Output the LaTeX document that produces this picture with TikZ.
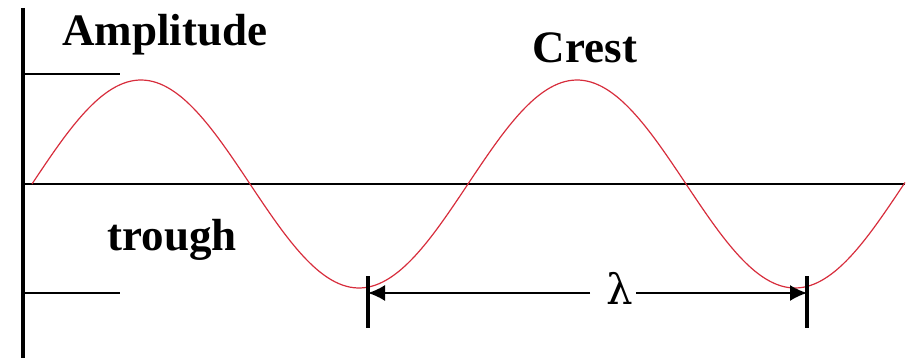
\documentclass[tikz,border=0pt]{standalone}
\usepackage{fontspec}
\setmainfont{Liberation Serif}
\newfontfamily\lamfont{DejaVu Serif}
\usetikzlibrary{arrows.meta}
\definecolor{wavered}{RGB}{215,45,60}
\begin{document}
\begin{tikzpicture}[x=1pt,y=-1pt,
  axisline/.style={line width=3.8pt},
  guide/.style={line width=1.8pt},
  barline/.style={line width=4pt},
  dimline/.style={line width=1.8pt,-{Latex[length=17pt,width=16pt]}},
  lbl/.style={font=\bfseries\fontsize{45}{45}\selectfont, inner sep=0pt, anchor=base},
  wave/.style={wavered, line width=1.2pt}]
\useasboundingbox (0,0) rectangle (911,361);
% axes
\coordinate (vtop) at (23,8);
\coordinate (vbot) at (23,358);
\coordinate (hl) at (23,184);
\coordinate (hr) at (905,184);
\draw[axisline] (vtop) -- (vbot);
\draw[guide] (hl) -- (hr);
% amplitude guides
\coordinate (ta) at (23,74);
\coordinate (tb) at (120,74);
\coordinate (ba) at (23,293);
\coordinate (bb) at (120,293);
\draw[guide] (ta) -- (tb);
\draw[guide] (ba) -- (bb);
% wave
\draw[wave] plot[domain=32:905, samples=240, smooth] (\x, {184-104*sin((\x-32)*0.825688)});
% labels
\node[lbl] (amp) at (165,46) {Amplitude};
\node[lbl] (crest) at (585,63) {Crest};
\node[lbl] (trough) at (172,250) {trough};
% wavelength
\coordinate (lbt) at (368,276);
\coordinate (lbb) at (368,328);
\coordinate (rbt) at (807,276);
\coordinate (rbb) at (807,328);
\draw[barline] (lbt) -- (lbb);
\draw[barline] (rbt) -- (rbb);
\coordinate (lb) at (368,293);
\coordinate (rb) at (807,293);
\node[font=\lamfont\fontsize{42}{42}\selectfont, inner sep=0pt, anchor=base] (lam) at (620,304) {λ};
\coordinate (lamL) at (590,293);
\coordinate (lamR) at (636,293);
\draw[dimline] (lamL) -- (lb);
\draw[dimline] (lamR) -- (rb);
\end{tikzpicture}
\end{document}
